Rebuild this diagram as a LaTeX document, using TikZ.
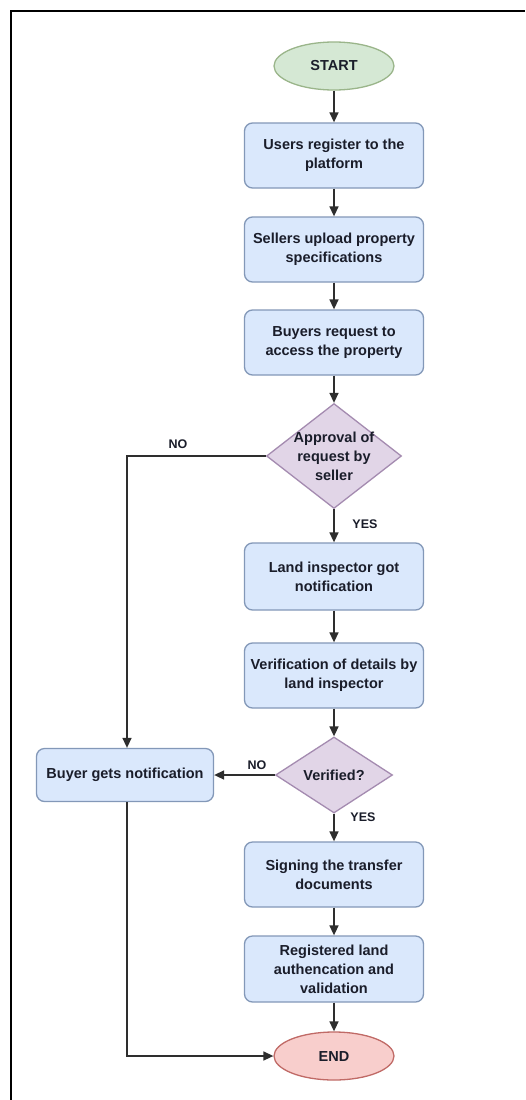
\documentclass[tikz,border=0pt]{standalone}
\usepackage{fontspec}
\setmainfont{Liberation Sans}
\usetikzlibrary{shapes.geometric,arrows.meta}

\definecolor{boxfill}{HTML}{DAE8FC}
\definecolor{boxline}{HTML}{8398B8}
\definecolor{startfill}{HTML}{D5E8D4}
\definecolor{startline}{HTML}{9AB58A}
\definecolor{decfill}{HTML}{E1D5E7}
\definecolor{decline}{HTML}{A48BB0}
\definecolor{endfill}{HTML}{F8CECC}
\definecolor{endline}{HTML}{C06A66}
\definecolor{flow}{HTML}{2E2E2E}
\definecolor{ink}{HTML}{1A1D2A}

\begin{document}
\begin{tikzpicture}[x=1pt,y=1pt,
  every node/.style={text=ink,font=\fontsize{14.5}{19}\selectfont\bfseries},
  process/.style={draw=boxline,fill=boxfill,line width=1.3pt,rounded corners=8pt,
    minimum width=179pt,minimum height=65pt,align=center,inner sep=0pt},
  terminal/.style={ellipse,line width=1.3pt,minimum width=120pt,minimum height=48pt,inner sep=0pt},
  decision/.style={diamond,draw=decline,fill=decfill,line width=1.3pt,inner sep=0pt},
  flowline/.style={draw=flow,line width=1.5pt,-{Triangle[length=10pt,width=9pt]}},
  answer/.style={font=\fontsize{12.5}{15}\selectfont\bfseries}]

\useasboundingbox (0,0) rectangle (525,-1100);
\fill[white] (0,0) rectangle (525,-1100);

% page frame
\draw[line width=2pt,black] (11,-1100) -- (11,-11) -- (525,-11);

% nodes
\node[terminal,draw=startline,fill=startfill] (start) at (334,-66) {START};
\node[process] (reg) at (334,-155.5) {Users register to the\\platform};
\node[process] (upload) at (334,-249.5) {Sellers upload property\\specifications};
\node[process] (request) at (334,-342.5) {Buyers request to\\access the property};
\node[decision,minimum width=135pt,minimum height=105pt,
  label={[align=center,text=ink]center:Approval of\\request by\\seller}] (approve) at (334,-456) {};
\node[process,minimum height=67pt] (notify) at (334,-576.5) {Land inspector got\\notification};
\node[process] (verify) at (334,-675.5) {Verification of details by\\land inspector};
\node[decision,minimum width=117pt,minimum height=76pt,
  label={[text=ink]center:Verified?}] (verified) at (334,-775) {};
\node[process,minimum width=177pt,minimum height=53pt] (buyer) at (125,-775) {Buyer gets notification};
\node[process] (sign) at (334,-874.5) {Signing the transfer\\documents};
\node[process,minimum height=66pt] (valid) at (334,-969) {Registered land\\authencation and\\validation};
\node[terminal,draw=endline,fill=endfill] (end) at (334,-1056) {END};

\coordinate (nocorner) at (127,-456);
\coordinate (endcorner) at (127,-1056);

% connectors
\draw[flowline] (start) -- (reg);
\draw[flowline] (reg) -- (upload);
\draw[flowline] (upload) -- (request);
\draw[flowline] (request) -- (approve);
\draw[flowline] (approve) -- (notify);
\draw[flowline] (notify) -- (verify);
\draw[flowline] (verify) -- (verified.north);
\draw[flowline] (verified) -- (sign);
\draw[flowline] (sign) -- (valid);
\draw[flowline] (valid) -- (end);
\draw[flowline] (approve.west) -- (nocorner) -- (buyer.north -| nocorner);
\draw[flowline] (verified.west) -- (buyer.east);
\draw[flowline] (buyer.south -| endcorner) -- (endcorner) -- (end.west);

% branch labels
\node[answer] (no1) at (178,-444) {NO};
\node[answer] (yes1) at (365,-524) {YES};
\node[answer] (no2) at (257,-765) {NO};
\node[answer] (yes2) at (363,-817) {YES};

\end{tikzpicture}
\end{document}
